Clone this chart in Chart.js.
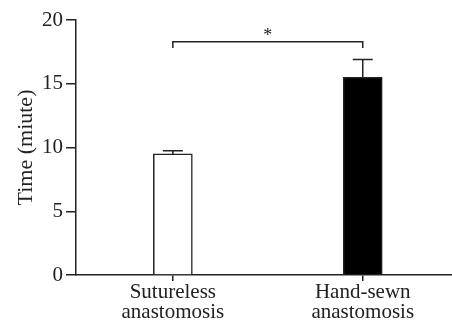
<!DOCTYPE html>
<html>
<head>
<meta charset="utf-8">
<script src="https://cdn.jsdelivr.net/npm/chart.js@4.4.0/dist/chart.umd.min.js"></script>
<style>
  html, body { margin: 0; padding: 0; background: #fff; }
  #wrap { width: 452px; height: 327px; }
</style>
</head>
<body>
<div id="wrap"><canvas id="myChart"></canvas></div>
<script>
// Datos del gráfico
const grupos = [['Sutureless', 'anastomosis'], ['Hand-sewn', 'anastomosis']];
const tiempos = [9.5, 15.5];   // media (minutos)
const errores = [0.25, 1.4];   // barra de error (solo hacia arriba)
const colores = ['#ffffff', '#000000'];
const ticksY = [0, 5, 10, 15, 20];

// Corchete de significancia
const corchete = { desde: 0, hasta: 1, y: 18.3, bajada: 0.5, texto: '*' };

const tinta = '#222';
const fuente = "'Liberation Serif', 'Times New Roman', serif";

// Plugin que dibuja las barras de error y el corchete con asterisco
const extras = {
  id: 'extras',
  afterDatasetsDraw(chart) {
    const ctx = chart.ctx;
    const x = chart.scales.x, y = chart.scales.y;
    ctx.save();
    ctx.strokeStyle = tinta;
    ctx.lineWidth = 1.5;

    // barras de error
    tiempos.forEach((v, i) => {
      const px = x.getPixelForValue(i);
      const top = y.getPixelForValue(v + errores[i]);
      const base = y.getPixelForValue(v);
      ctx.beginPath();
      ctx.moveTo(px, base);
      ctx.lineTo(px, top);
      ctx.moveTo(px - 10, top);
      ctx.lineTo(px + 10, top);
      ctx.stroke();
    });

    // corchete
    const x1 = x.getPixelForValue(corchete.desde);
    const x2 = x.getPixelForValue(corchete.hasta);
    const yc = y.getPixelForValue(corchete.y);
    const yb = y.getPixelForValue(corchete.y - corchete.bajada);
    ctx.beginPath();
    ctx.moveTo(x1, yb);
    ctx.lineTo(x1, yc);
    ctx.lineTo(x2, yc);
    ctx.lineTo(x2, yb);
    ctx.stroke();

    ctx.fillStyle = tinta;
    ctx.font = '18px ' + fuente;
    ctx.textAlign = 'center';
    ctx.textBaseline = 'middle';
    ctx.fillText(corchete.texto, (x1 + x2) / 2, yc - 5);
    ctx.restore();
  }
};

const data = {
  datasets: [{
    data: tiempos.map((v, i) => ({ x: i, y: v })),
    backgroundColor: colores,
    borderColor: tinta,
    borderWidth: 1.5,
    barThickness: 39
  }]
};

const config = {
  type: 'bar',
  data: data,
  options: {
    responsive: true,
    maintainAspectRatio: false,
    animation: false,
    layout: { padding: { top: 20, right: 0, left: 0, bottom: 0 } },
    plugins: { legend: { display: false }, tooltip: { enabled: false } },
    scales: {
      x: {
        type: 'linear',
        offset: false,
        min: -0.51,
        max: 1.47,
        afterBuildTicks: (scale) => { scale.ticks = grupos.map((g, i) => ({ value: i })); },
        afterFit: (scale) => { scale.height = 52; },
        grid: { offset: false, drawOnChartArea: false, drawTicks: true, tickLength: 6, color: tinta, lineWidth: 1.5 },
        border: { display: true, color: tinta, width: 1.5 },
        ticks: {
          callback: (v) => grupos[v],
          color: tinta,
          padding: 2,
          maxRotation: 0,
          font: { family: fuente, size: 21, lineHeight: 0.95 }
        }
      },
      y: {
        min: 0,
        max: 20,
        afterBuildTicks: (scale) => { scale.ticks = ticksY.map(v => ({ value: v })); },
        afterFit: (scale) => { scale.width = 76; },
        grid: { drawOnChartArea: false, drawTicks: true, tickLength: 10, color: tinta, lineWidth: 1.5 },
        border: { display: true, color: tinta, width: 1.5 },
        ticks: { color: tinta, padding: 3, font: { family: fuente, size: 21 } },
        title: {
          display: true,
          text: 'Time (miute)',
          color: tinta,
          padding: { top: 13, bottom: 4 },
          font: { family: fuente, size: 22 }
        }
      }
    }
  },
  plugins: [extras]
};

const myChart = new Chart(document.getElementById('myChart'), config);
</script>
</body>
</html>
